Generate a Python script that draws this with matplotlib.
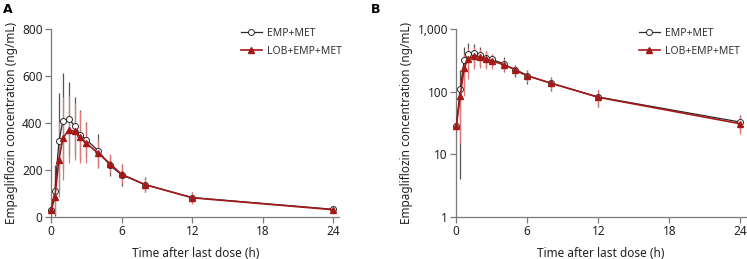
import numpy as np
import matplotlib
matplotlib.use("Agg")
from matplotlib import pyplot as plt
from matplotlib.ticker import FuncFormatter

plt.rcParams['font.family'] = ['Noto Sans', 'DejaVu Sans']

# sampling times (h)
time_h = [0, 0.33, 0.67, 1, 1.5, 2, 2.5, 3, 4, 5, 6, 8, 12, 24]

# EMP+MET mean and SD (ng/mL)
emp_mean = [28, 112, 322, 408, 420, 388, 350, 330, 283, 220, 180, 138, 83, 33]
emp_sd = [6, 108, 205, 205, 157, 125, 105, 76, 73, 45, 48, 33, 25, 10]

# LOB+EMP+MET mean and SD (ng/mL)
lob_mean = [28, 85, 245, 335, 372, 365, 340, 315, 272, 228, 182, 138, 82, 31]
lob_sd = [5, 70, 160, 177, 143, 120, 110, 86, 60, 42, 40, 30, 25, 10]

x_ticks = [0, 6, 12, 18, 24]

dark = "#2b2b2b"
red = "#a51818"
spine_col = "#7a7a7a"

fig = plt.figure(figsize=(7.47, 2.59), dpi=100)
axA = fig.add_axes([0.0683, 0.162, 0.386, 0.7247])
axB = fig.add_axes([0.6108, 0.162, 0.388, 0.7247])


def draw(ax, leg_x, log=False):
    e_lo = np.array(emp_sd)
    l_lo = np.array(lob_sd)
    if log:
        e_lo = np.minimum(e_lo, np.array(emp_mean) - 1e-3)
        l_lo = np.minimum(l_lo, np.array(lob_mean) - 1e-3)
    ax.errorbar(time_h, emp_mean, yerr=[e_lo, emp_sd], fmt="none",
                ecolor="#555555", elinewidth=0.9, capsize=0, zorder=2)
    ax.errorbar(time_h, lob_mean, yerr=[l_lo, lob_sd], fmt="none",
                ecolor="#e07a7a", elinewidth=0.9, capsize=0, zorder=2)
    ax.plot(time_h, emp_mean, color=dark, lw=0.9, marker="o", ms=4.3,
            mfc="white", mec=dark, mew=0.7, label="EMP+MET", zorder=3,
            clip_on=False)
    ax.plot(time_h, lob_mean, color=red, lw=1.2, marker="^", ms=4.3,
            mfc=red, mec=red, label="LOB+EMP+MET", zorder=4, clip_on=False)

    ax.set_xlim(0, 24.5)
    ax.set_xticks(x_ticks)
    for s in ["top", "right"]:
        ax.spines[s].set_visible(False)
    for s in ["left", "bottom"]:
        ax.spines[s].set_color(spine_col)
        ax.spines[s].set_linewidth(0.9)
    ax.tick_params(direction="out", length=4, width=0.9, color=spine_col,
                   labelsize=8.5, labelcolor="#222222", pad=2)
    ax.set_xlabel("Time after last dose (h)", fontsize=8.5, color="#222222",
                  labelpad=6)
    ax.set_ylabel("Empagliflozin concentration (ng/mL)", fontsize=8.5,
                  color="#222222", labelpad=3)
    leg = ax.legend(loc="upper right", bbox_to_anchor=(leg_x, 1.04),
                    frameon=False, fontsize=7.5, handlelength=2.0,
                    handletextpad=0.5, labelspacing=0.65, borderaxespad=0.2)
    for t in leg.get_texts():
        t.set_color("#333333")


draw(axA, 1.03)
axA.set_ylim(0, 800)
axA.set_yticks([0, 200, 400, 600, 800])

draw(axB, 1.0, log=True)
axB.set_yscale("log")
axB.set_ylim(1, 1000)
axB.set_yticks([1, 10, 100, 1000])
axB.yaxis.set_major_formatter(FuncFormatter(lambda v, p: f"{int(v):,}"))
axB.yaxis.set_minor_locator(matplotlib.ticker.NullLocator())

fig.text(0.004, 0.99, "A", fontsize=9, fontweight="bold", va="top",
         family="DejaVu Sans")
fig.text(0.497, 0.99, "B", fontsize=9, fontweight="bold", va="top",
         family="DejaVu Sans")

fig.savefig("out.png", dpi=100)
